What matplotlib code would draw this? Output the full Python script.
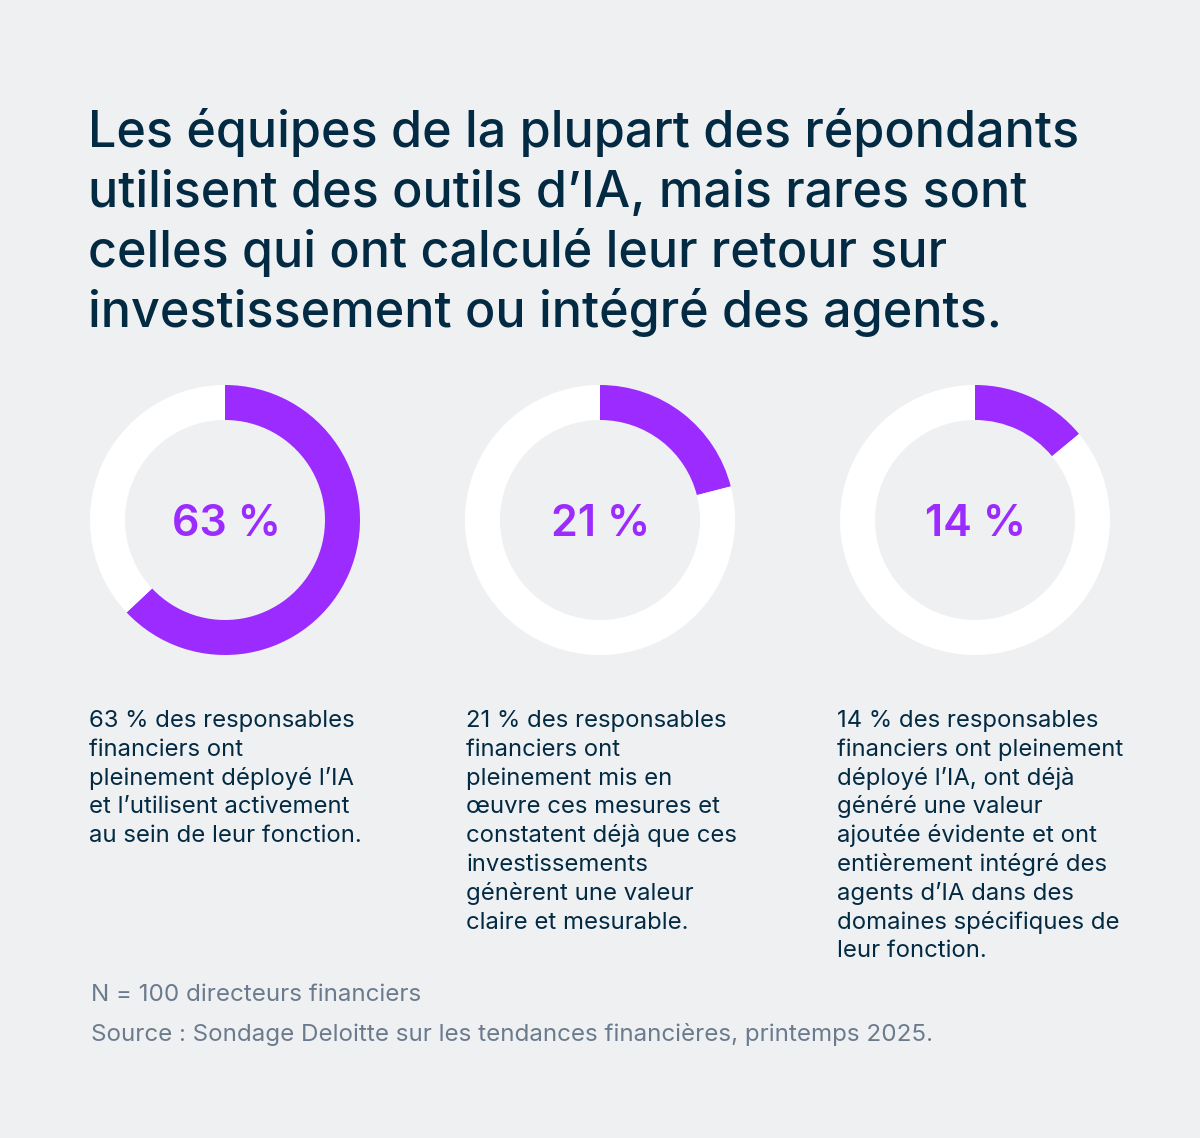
import matplotlib
matplotlib.use("Agg")
from matplotlib import pyplot as plt

W, H = 1200, 1138
BG = "#eff0f2"
NAVY = "#022a43"
PURPLE = "#9b2bff"
GREY = "#6b7b8e"

title_lines = [
    "Les équipes de la plupart des répondants",
    "utilisent des outils d’IA, mais rares sont",
    "celles qui ont calculé leur retour sur",
    "investissement ou intégré des agents.",
]
values = [63, 21, 14]
labels = ["63 %", "21 %", "14 %"]
captions = [
    ["63 % des responsables", "financiers ont", "pleinement déployé l’IA",
     "et l’utilisent activement", "au sein de leur fonction."],
    ["21 % des responsables", "financiers ont", "pleinement mis en",
     "œuvre ces mesures et", "constatent déjà que ces", "investissements",
     "génèrent une valeur", "claire et mesurable."],
    ["14 % des responsables", "financiers ont pleinement", "déployé l’IA, ont déjà",
     "généré une valeur", "ajoutée évidente et ont", "entièrement intégré des",
     "agents d’IA dans des", "domaines spécifiques de", "leur fonction."],
]
note = "N = 100 directeurs financiers"
source = "Source : Sondage Deloitte sur les tendances financières, printemps 2025."

plt.rcParams['font.family'] = ['Inter', 'DejaVu Sans']

fig = plt.figure(figsize=(W / 100, H / 100), dpi=100, facecolor=BG)
ax = fig.add_axes([0, 0, 1, 1])

# title
for i, line in enumerate(title_lines):
    ax.text(88, H - (147 + 60 * i), line, fontsize=36.2, color=NAVY,
            fontweight='medium', va='baseline', ha='left')

# donuts
cx = [225, 600, 975]
text_x = [90, 467, 838]
for k, v in enumerate(values):
    ax.pie([v, 100 - v], colors=[PURPLE, "white"], startangle=90,
           counterclock=False, radius=135, center=(cx[k], H - 520),
           wedgeprops=dict(width=35, linewidth=0), frame=True)
    ax.text(cx[k] + 1, H - 524, labels[k], fontsize=31, color=PURPLE,
            fontweight='semibold', ha='center', va='center')
    for j, line in enumerate(captions[k]):
        ax.text(text_x[k] - 1, H - (727 + 28.8 * j), line, fontsize=17.2,
                color=NAVY, va='baseline', ha='left')

ax.set_xlim(0, W)
ax.set_ylim(0, H)
ax.set_aspect('equal')
ax.axis('off')

ax.text(91, H - 1001, note, fontsize=17.4, color=GREY, va='baseline', ha='left')
ax.text(91, H - 1041, source, fontsize=17.4, color=GREY, va='baseline', ha='left')

fig.savefig("out.png", dpi=100, facecolor=BG)
